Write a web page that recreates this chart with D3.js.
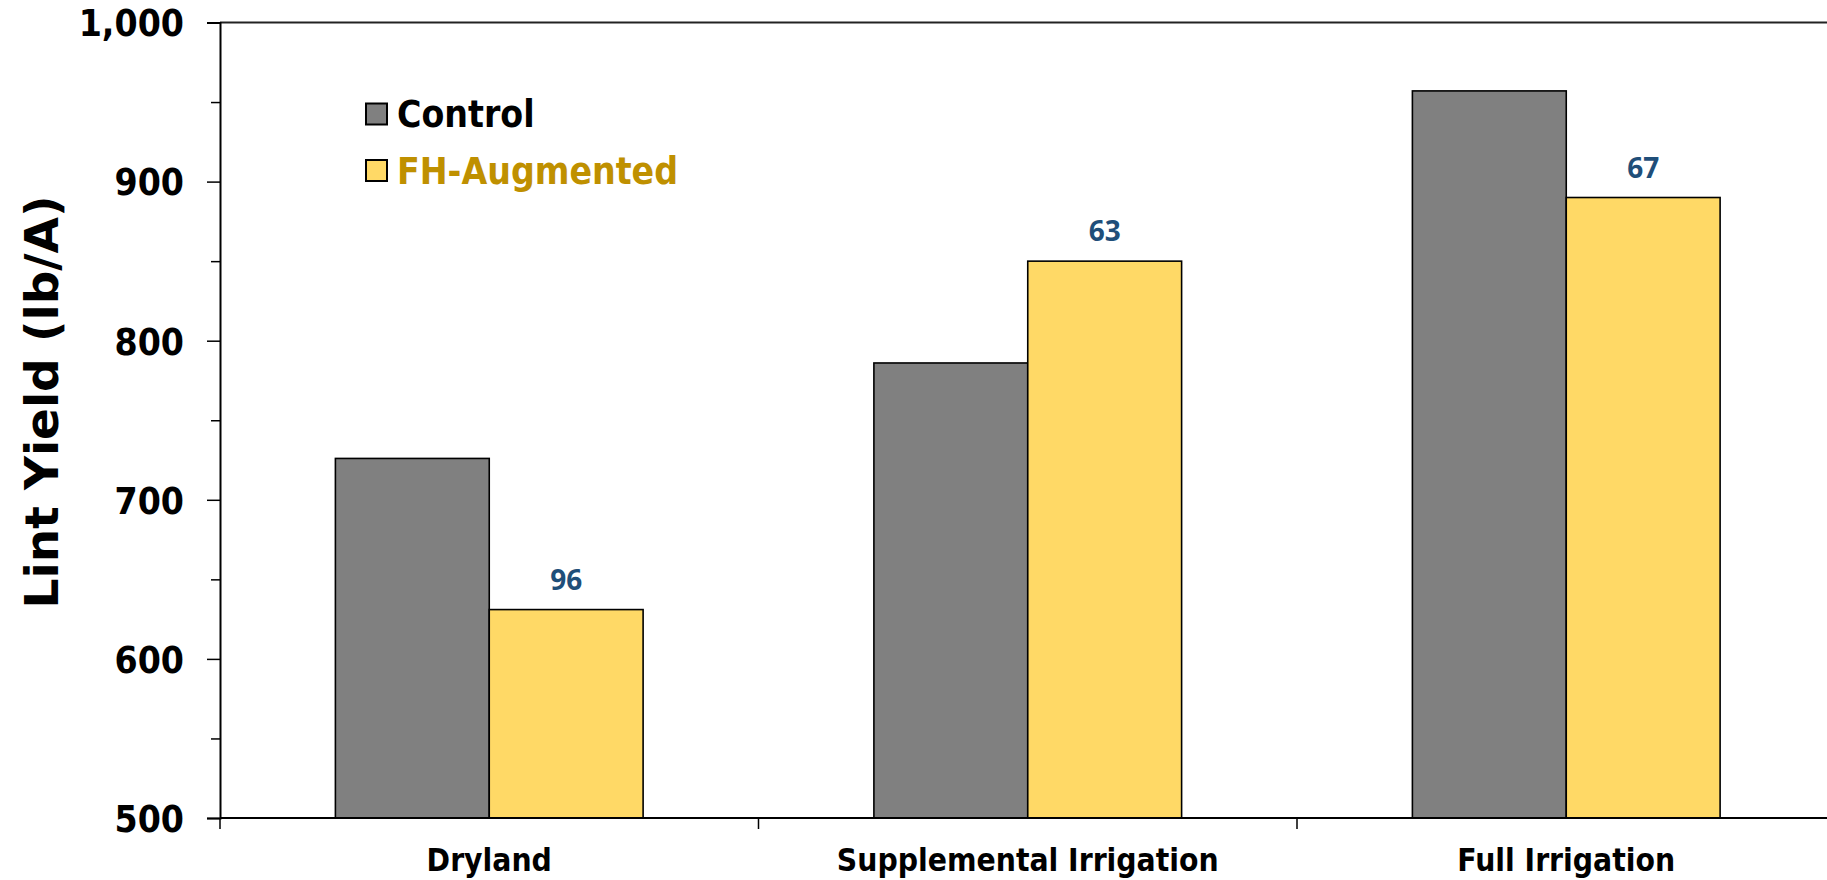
<!DOCTYPE html>
<html>
<head>
<meta charset="utf-8">
<script src="https://cdn.jsdelivr.net/npm/d3@7"></script>
<style>
  html, body { margin: 0; padding: 0; background: #ffffff; }
  svg { display: block; }
  .bold { font-family: "DejaVu Sans Condensed", "DejaVu Sans", sans-serif; font-stretch: condensed; font-weight: bold; }
  .title { font-family: "DejaVu Sans", sans-serif; font-weight: bold; }
  .val { font-family: "Open Sans", "Noto Sans", sans-serif; font-weight: bold; }
</style>
</head>
<body>
<svg id="chart" width="1827" height="880"></svg>
<script>
// Lint yield by irrigation regime
const categories = ["Dryland", "Supplemental Irrigation", "Full Irrigation"];
const seriesNames = ["Control", "FH-Augmented"];
const controlYield = [726, 786, 957];
const augmentedYield = [631, 850, 890];
const augmentedNotes = ["96", "63", "67"];
const yTickValues = [500, 600, 700, 800, 900, 1000];
const yTickLabels = ["500", "600", "700", "800", "900", "1,000"];
const yMinorValues = [550, 650, 750, 850, 950];

const fills = { "Control": "#808080", "FH-Augmented": "#FFD966" };
const legendText = { "Control": "#000000", "FH-Augmented": "#BF9000" };

const svg = d3.select("#chart");
const plotLeft = 220, plotRight = 1835.5, plotTop = 22.5, plotBottom = 818;

const y = d3.scaleLinear().domain([500, 1000]).range([plotBottom, plotTop]);
const x0 = d3.scaleBand().domain(categories).range([plotLeft, plotRight])
  .paddingInner(1.5 / 3.5).paddingOuter(0.75 / 3.5);
const x1 = d3.scaleBand().domain(seriesNames).range([0, x0.bandwidth()]);

const rows = categories.map((c, i) => ({
  category: c,
  values: [
    { series: "Control", value: controlYield[i] },
    { series: "FH-Augmented", value: augmentedYield[i], note: augmentedNotes[i] }
  ]
}));

// bars
const groups = svg.append("g").selectAll("g").data(rows).join("g")
  .attr("transform", d => `translate(${x0(d.category)},0)`);

groups.selectAll("rect").data(d => d.values).join("rect")
  .attr("x", d => x1(d.series))
  .attr("y", d => y(d.value))
  .attr("width", x1.bandwidth())
  .attr("height", d => y(500) - y(d.value))
  .attr("fill", d => fills[d.series])
  .attr("stroke", "#000")
  .attr("stroke-width", 1.6);

groups.selectAll("text.val").data(d => d.values.filter(v => v.note)).join("text")
  .attr("class", "val")
  .attr("x", d => x1(d.series) + x1.bandwidth() / 2)
  .attr("y", d => y(d.value) - 20)
  .attr("text-anchor", "middle")
  .attr("font-size", 28)
  .attr("fill", "#1F4E79")
  .text(d => d.note);

// top frame line
svg.append("line")
  .attr("x1", plotLeft).attr("x2", 1827).attr("y1", plotTop).attr("y2", plotTop)
  .attr("stroke", "#222").attr("stroke-width", 2);

// y axis
const yAxis = d3.axisLeft(y).tickValues(yTickValues)
  .tickFormat((d, i) => yTickLabels[i]).tickSize(13).tickPadding(23);
const gy = svg.append("g").attr("transform", `translate(${plotLeft},0)`).call(yAxis);
gy.select(".domain").attr("stroke", "#000").attr("stroke-width", 2);
gy.selectAll(".tick line").attr("stroke", "#000").attr("stroke-width", 1.5);
gy.selectAll(".tick text").attr("class", "bold").attr("font-size", 37)
  .attr("fill", "#000").attr("dy", "0.36em");

const yMinor = d3.axisLeft(y).tickValues(yMinorValues).tickSize(9).tickFormat("");
const gym = svg.append("g").attr("transform", `translate(${plotLeft},0)`).call(yMinor);
gym.select(".domain").remove();
gym.selectAll(".tick line").attr("stroke", "#000").attr("stroke-width", 1.5);

// x axis with ticks at category boundaries
const boundaries = [x0.range()[0]].concat(categories.map(c => x0(c) + x0.bandwidth() + x0.step() * x0.paddingInner() / 2));
const gx = svg.append("g");
gx.append("line").attr("x1", plotLeft).attr("x2", plotRight).attr("y1", plotBottom).attr("y2", plotBottom)
  .attr("stroke", "#000").attr("stroke-width", 2);
gx.selectAll("line.tk").data(boundaries).join("line").attr("class", "tk")
  .attr("x1", d => d).attr("x2", d => d).attr("y1", plotBottom).attr("y2", plotBottom + 11)
  .attr("stroke", "#000").attr("stroke-width", 1.5);
gx.selectAll("text").data(categories).join("text")
  .attr("class", "bold")
  .attr("x", d => x0(d) + x0.bandwidth() / 2)
  .attr("y", 871)
  .attr("text-anchor", "middle")
  .attr("font-size", 31.5)
  .attr("fill", "#000")
  .text(d => d);

// y axis title
svg.append("text")
  .attr("class", "title")
  .attr("transform", "translate(58,402) rotate(-90)")
  .attr("text-anchor", "middle")
  .attr("font-size", 47)
  .attr("fill", "#000")
  .text("Lint Yield (lb/A)");

// legend
const legend = svg.append("g").selectAll("g").data(seriesNames).join("g")
  .attr("transform", (d, i) => `translate(366,${103.5 + i * 56.5})`);
legend.append("rect").attr("width", 21).attr("height", 21)
  .attr("fill", d => fills[d]).attr("stroke", "#000").attr("stroke-width", 2);
legend.append("text").attr("class", "bold")
  .attr("x", 31).attr("y", 23.5)
  .attr("font-size", 37)
  .attr("fill", d => legendText[d])
  .text(d => d);
</script>
</body>
</html>
